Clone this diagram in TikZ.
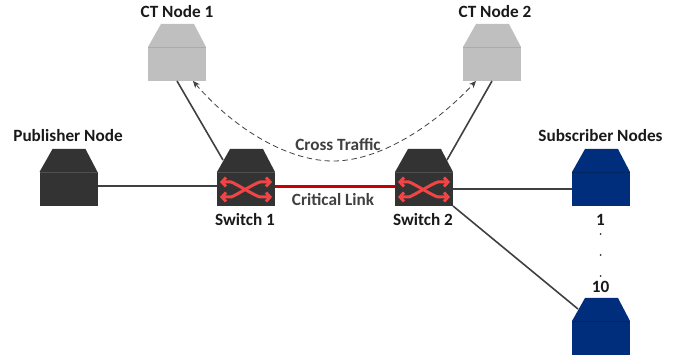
\documentclass[tikz,border=0pt]{standalone}
\usepackage{fontspec}
\setmainfont{Carlito}
\usetikzlibrary{arrows.meta}
\definecolor{darkdev}{HTML}{333333}
\definecolor{darkedge}{HTML}{4F4F4F}
\definecolor{greydev}{HTML}{BFBFBF}
\definecolor{greyedge}{HTML}{ABABAB}
\definecolor{bluedev}{HTML}{002D7C}
\definecolor{blueedge}{HTML}{00265F}
\definecolor{linkgrey}{HTML}{404040}
\definecolor{critred}{HTML}{C80000}
\definecolor{swred}{HTML}{F24444}
\tikzset{
  lbl/.style={font=\fontsize{17.2}{19}\selectfont\bfseries, text=black!90, inner sep=0pt},
  linklbl/.style={font=\fontsize{17.2}{19}\selectfont\bfseries, text=linkgrey, inner sep=0pt},
  devbody/.style={rectangle, minimum width=58pt, minimum height=34pt, inner sep=0pt, outer sep=0pt, anchor=north west},
  conn/.style={draw=linkgrey, line width=1.6pt},
  critlink/.style={draw=critred, line width=3pt},
  traffic/.style={draw=linkgrey, line width=0.8pt, dash pattern=on 5.5pt off 3.5pt, {Stealth[length=7pt,width=6pt]}-{Stealth[length=7pt,width=6pt]}},
  swarrow/.style={draw=swred, line width=3pt, line join=round, {Straight Barb[length=4pt,width=9pt]}-{Straight Barb[length=4pt,width=9pt]}},
}
% name, x, y of roof top, fill, edge
\newcommand{\device}[5]{%
  \fill[#4] (#2+13,#3) -- (#2+46,#3) -- (#2+58,#3+23) -- (#2,#3+23) -- cycle;
  \node[devbody, fill=#4] (#1) at (#2,#3+23) {};
  \draw[#5, line width=0.8pt] (#2,#3+23) -- (#2+58,#3+23);
  \coordinate (#1-rl) at (#2+6,#3+11);
  \coordinate (#1-rr) at (#2+52,#3+11);
}
\newcommand{\swarrows}[2]{%
  \draw[swarrow] (#1+3,#2+10) -- (#1+14,#2+10) .. controls (#1+18,#2+11) and (#1+38,#2+24) .. (#1+43,#2+25) -- (#1+55,#2+25);
  \draw[swarrow] (#1+3,#2+25) -- (#1+14,#2+25) .. controls (#1+18,#2+24) and (#1+38,#2+11) .. (#1+43,#2+10) -- (#1+55,#2+10);
}
\begin{document}
\begin{tikzpicture}[x=1pt,y=-1pt]
\useasboundingbox (0,0) rectangle (678,358);
\device{ct1}{148}{24}{greydev}{greyedge}
\device{ct2}{463}{24}{greydev}{greyedge}
\device{pub}{39.5}{149}{darkdev}{darkedge}
\device{sw1}{217}{149}{darkdev}{darkedge}
\device{sw2}{395}{149}{darkdev}{darkedge}
\device{sub1}{572}{149}{bluedev}{blueedge}
\device{sub10}{572}{298}{bluedev}{blueedge}
\swarrows{217}{172}
\swarrows{395}{172}
\draw[conn] ([yshift=3pt]pub.east) -- ([yshift=3pt]sw1.west);
\draw[conn] (ct1.south) -- (sw1-rl);
\draw[conn] (ct2.south) -- (sw2-rr);
\draw[critlink] ([yshift=2pt]sw1.east) -- ([yshift=2pt]sw2.west);
\draw[conn] (sw2.east) -- (sub1.west);
\draw[conn] (sw2.south east) -- (sub10-rl);
\coordinate (t1) at (193,81);
\coordinate (t2) at (476,81);
\draw[traffic] (t1) .. controls (235,130) and (290,162) .. (335,161) .. controls (385,160) and (440,120) .. (t2);
\node[lbl] (l1) at (177,12) {CT Node 1};
\node[lbl] (l2) at (495,12) {CT Node 2};
\node[lbl] (l3) at (68,136) {Publisher Node};
\node[lbl] (l4) at (245,220) {Switch 1};
\node[lbl] (l5) at (423,220) {Switch 2};
\node[lbl] (l6) at (600.5,136) {Subscriber Nodes};
\node[lbl] (l7) at (600.5,220) {1};
\node[lbl] (l8) at (600.5,287) {10};
\node[linklbl] (l9) at (338,145) {Cross Traffic};
\node[linklbl] (l10) at (333,200) {Critical Link};
\foreach \yy in {234,255,276} \fill[black!80] (600.5,\yy) circle (1pt);
\end{tikzpicture}
\end{document}
